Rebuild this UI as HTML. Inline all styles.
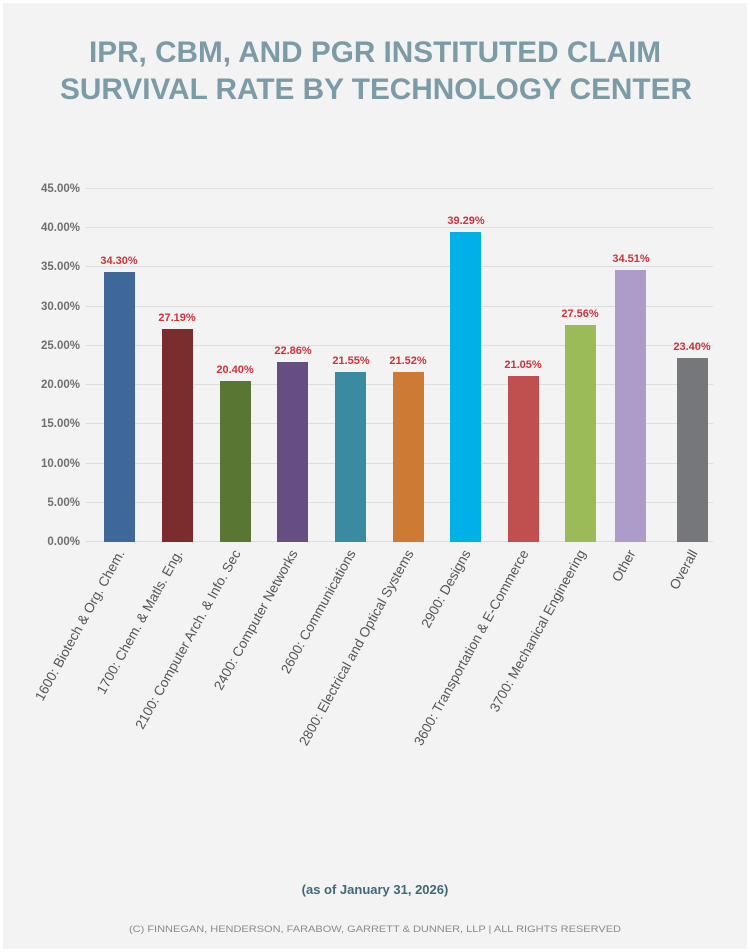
<!DOCTYPE html>
<html><head><meta charset="utf-8"><style>
html,body{margin:0;padding:0;background:#fff}
svg{display:block}
text{font-family:"Liberation Sans",sans-serif}
</style></head><body>
<svg width="750" height="952" viewBox="0 0 750 952" xmlns="http://www.w3.org/2000/svg">
<rect x="0" y="0" width="750" height="952" fill="#ffffff"/>
<rect x="3" y="3" width="744" height="946" fill="#f3f3f3"/>
<g fill="#7b9ba6" font-weight="bold" font-size="30" text-anchor="middle">
<text x="375" y="62" textLength="572" lengthAdjust="spacingAndGlyphs">IPR, CBM, AND PGR INSTITUTED CLAIM</text>
<text x="376" y="99" textLength="632" lengthAdjust="spacingAndGlyphs">SURVIVAL RATE BY TECHNOLOGY CENTER</text>
</g>
<g stroke="#dddddd" stroke-width="1">
<line x1="86" x2="713" y1="188.5" y2="188.5"/><line x1="86" x2="713" y1="227.5" y2="227.5"/>
<line x1="86" x2="713" y1="266.5" y2="266.5"/><line x1="86" x2="713" y1="306.5" y2="306.5"/>
<line x1="86" x2="713" y1="345.5" y2="345.5"/><line x1="86" x2="713" y1="384.5" y2="384.5"/>
<line x1="86" x2="713" y1="423.5" y2="423.5"/><line x1="86" x2="713" y1="463.5" y2="463.5"/>
<line x1="86" x2="713" y1="502.5" y2="502.5"/><line x1="86" x2="713" y1="541.5" y2="541.5"/>
</g>
<g fill="#6f6f6f" font-weight="bold" font-size="11.5" text-anchor="end">
<text x="80" y="192">45.00%</text><text x="80" y="231">40.00%</text><text x="80" y="270">35.00%</text>
<text x="80" y="310">30.00%</text><text x="80" y="349">25.00%</text><text x="80" y="388">20.00%</text>
<text x="80" y="427">15.00%</text><text x="80" y="467">10.00%</text><text x="80" y="506">5.00%</text>
<text x="80" y="545">0.00%</text>
</g>
<g>
<rect x="104" y="272" width="31" height="270" fill="#3d6899"/>
<rect x="162" y="329" width="31" height="213" fill="#7b2d2d"/>
<rect x="220" y="381" width="31" height="161" fill="#5a7633"/>
<rect x="277" y="362" width="31" height="180" fill="#664e82"/>
<rect x="335" y="372" width="31" height="170" fill="#3a8ba2"/>
<rect x="393" y="372" width="31" height="170" fill="#cd7a35"/>
<rect x="450" y="232" width="31" height="310" fill="#00b0e6"/>
<rect x="508" y="376" width="31" height="166" fill="#c0504f"/>
<rect x="565" y="325" width="31" height="217" fill="#9bbb58"/>
<rect x="615" y="270" width="31" height="272" fill="#ad9bc9"/>
<rect x="677" y="358" width="31" height="184" fill="#76777b"/>
</g>
<g fill="#c8343a" font-weight="bold" font-size="11" text-anchor="middle">
<text x="119" y="264">34.30%</text><text x="177" y="321">27.19%</text><text x="235" y="373">20.40%</text>
<text x="293" y="354">22.86%</text><text x="351" y="364">21.55%</text><text x="408" y="364">21.52%</text>
<text x="466" y="224">39.29%</text><text x="523" y="368">21.05%</text><text x="580" y="317">27.56%</text>
<text x="631" y="262">34.51%</text><text x="692" y="350">23.40%</text>
</g>
<g fill="#555555" font-size="13.6" text-anchor="end">
<text transform="translate(125,553) rotate(-61)">1600: Biotech &amp; Org. Chem.</text>
<text transform="translate(183,553) rotate(-61)">1700: Chem. &amp; Matls. Eng.</text>
<text transform="translate(241,553) rotate(-61)">2100: Computer Arch. &amp; Info. Sec</text>
<text transform="translate(298,553) rotate(-61)">2400: Computer Networks</text>
<text transform="translate(356,553) rotate(-61)">2600: Communications</text>
<text transform="translate(414,553) rotate(-61)">2800: Electrical and Optical Systems</text>
<text transform="translate(471,553) rotate(-61)">2900: Designs</text>
<text transform="translate(529,553) rotate(-61)">3600: Transportation &amp; E-Commerce</text>
<text transform="translate(586,553) rotate(-61)">3700: Mechanical Engineering</text>
<text transform="translate(636,553) rotate(-61)">Other</text>
<text transform="translate(698,553) rotate(-61)">Overall</text>
</g>
<text x="375" y="894" fill="#3f6878" font-weight="bold" font-size="13" text-anchor="middle">(as of January 31, 2026)</text>
<text x="375" y="932" fill="#8a8a8a" font-size="9" text-anchor="middle" textLength="492" lengthAdjust="spacingAndGlyphs">(C) FINNEGAN, HENDERSON, FARABOW, GARRETT &amp; DUNNER, LLP | ALL RIGHTS RESERVED</text>
</svg>
</body></html>
